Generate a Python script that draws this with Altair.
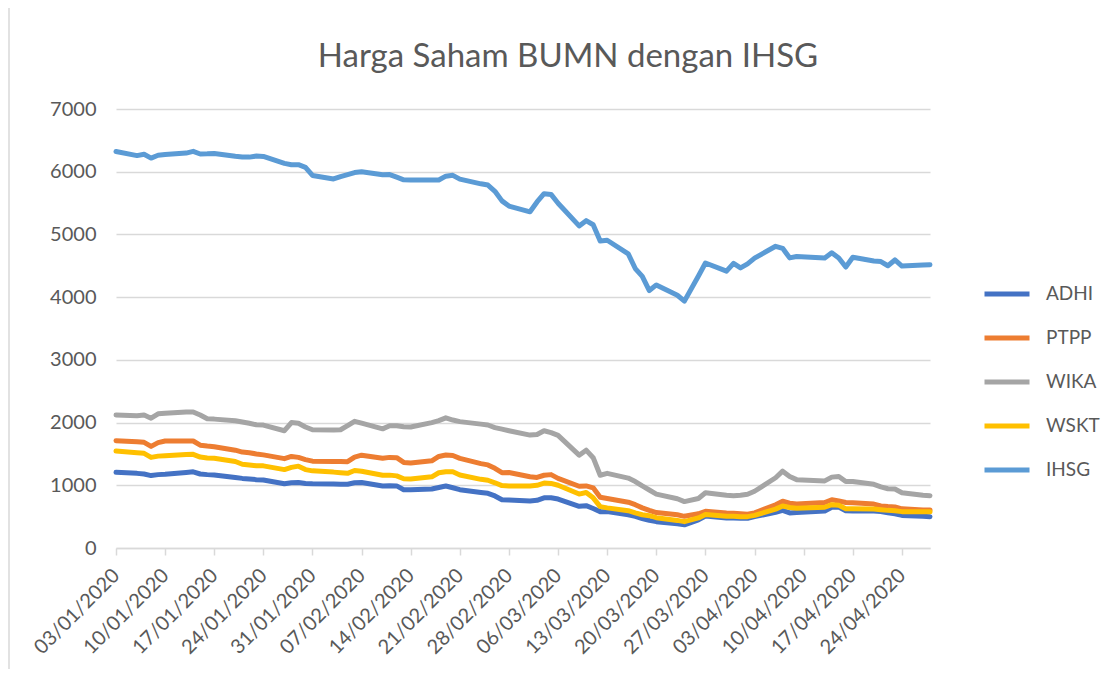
import altair as alt
import pandas as pd

# Trading dates (dd/mm/yyyy)
dates = [
    "03/01/2020", "06/01/2020", "07/01/2020", "08/01/2020", "09/01/2020", "10/01/2020",
    "13/01/2020", "14/01/2020", "15/01/2020", "16/01/2020", "17/01/2020",
    "20/01/2020", "21/01/2020", "22/01/2020", "23/01/2020", "24/01/2020",
    "27/01/2020", "28/01/2020", "29/01/2020", "30/01/2020", "31/01/2020",
    "03/02/2020", "04/02/2020", "05/02/2020", "06/02/2020", "07/02/2020",
    "10/02/2020", "11/02/2020", "12/02/2020", "13/02/2020", "14/02/2020",
    "17/02/2020", "18/02/2020", "19/02/2020", "20/02/2020", "21/02/2020",
    "24/02/2020", "25/02/2020", "26/02/2020", "27/02/2020", "28/02/2020",
    "02/03/2020", "03/03/2020", "04/03/2020", "05/03/2020", "06/03/2020",
    "09/03/2020", "10/03/2020", "11/03/2020", "12/03/2020", "13/03/2020",
    "16/03/2020", "17/03/2020", "18/03/2020", "19/03/2020", "20/03/2020",
    "23/03/2020", "24/03/2020", "26/03/2020", "27/03/2020",
    "30/03/2020", "31/03/2020", "01/04/2020", "02/04/2020", "03/04/2020",
    "06/04/2020", "07/04/2020", "08/04/2020", "09/04/2020",
    "13/04/2020", "14/04/2020", "15/04/2020", "16/04/2020", "17/04/2020",
    "20/04/2020", "21/04/2020", "22/04/2020", "23/04/2020", "24/04/2020",
    "27/04/2020", "28/04/2020",
]

ihsg = [
    6323, 6257, 6279, 6217, 6262, 6274,
    6297, 6325, 6283, 6286, 6292,
    6245, 6233, 6233, 6249, 6244,
    6133, 6111, 6113, 6070, 5940,
    5884, 5922, 5954, 5987, 5999,
    5952, 5954, 5913, 5871, 5866,
    5867, 5868, 5929, 5942, 5882,
    5807, 5787, 5688, 5535, 5452,
    5361, 5518, 5650, 5638, 5498,
    5136, 5220, 5154, 4895, 4907,
    4690, 4456, 4330, 4105, 4195,
    4030, 3937, 4338, 4545,
    4414, 4538, 4466, 4531, 4623,
    4811, 4778, 4626, 4649,
    4623, 4707, 4625, 4480, 4635,
    4575, 4567, 4501, 4593, 4496,
    4513, 4517,
]

wika = [
    2121, 2110, 2120, 2070, 2140, 2150,
    2170, 2170, 2120, 2060, 2055,
    2030, 2010, 1990, 1965, 1960,
    1870, 2000, 1990, 1930, 1885,
    1882, 1885, 1950, 2020, 1990,
    1900, 1950, 1950, 1935, 1929,
    2000, 2030, 2075, 2040, 2015,
    1975, 1961, 1920, 1895, 1870,
    1800, 1810, 1870, 1840, 1795,
    1480, 1560, 1440, 1160, 1190,
    1115, 1060, 990, 925, 860,
    785, 740, 790, 880,
    840, 835, 840, 856, 905,
    1120, 1225, 1140, 1090,
    1070, 1130, 1140, 1060, 1060,
    1015, 975, 945, 940, 880,
    840, 834,
]

ptpp = [
    1712, 1695, 1685, 1620, 1680, 1706,
    1706, 1706, 1640, 1625, 1615,
    1560, 1530, 1520, 1500, 1485,
    1425, 1460, 1445, 1410, 1385,
    1380, 1380, 1376, 1450, 1480,
    1430, 1445, 1440, 1365, 1355,
    1390, 1460, 1483, 1475, 1430,
    1345, 1325, 1270, 1200, 1205,
    1135, 1125, 1160, 1170, 1110,
    985, 990, 960, 810, 790,
    730, 690, 640, 600, 565,
    530, 505, 545, 585,
    560, 555, 545, 537, 560,
    690, 745, 715, 700,
    725, 770, 750, 725, 720,
    700, 670, 660, 655, 625,
    606, 606,
]

wskt = [
    1547, 1520, 1510, 1445, 1465, 1472,
    1490, 1494, 1450, 1435, 1430,
    1380, 1335, 1325, 1310, 1310,
    1250, 1285, 1305, 1250, 1230,
    1210, 1200, 1191, 1235, 1225,
    1160, 1162, 1150, 1105, 1100,
    1135, 1200, 1217, 1215, 1165,
    1095, 1080, 1040, 995, 989,
    989, 1000, 1035, 1030, 1000,
    860, 885, 800, 660, 640,
    595, 560, 530, 515, 483,
    440, 420, 480, 535,
    505, 505, 500, 500, 520,
    620, 670, 645, 635,
    650, 690, 680, 625, 625,
    622, 610, 600, 595, 580,
    579, 579,
]

adhi = [
    1207, 1190, 1180, 1155, 1170, 1175,
    1205, 1215, 1180, 1170, 1165,
    1125, 1110, 1100, 1090, 1085,
    1025, 1040, 1045, 1030, 1025,
    1020, 1018, 1016, 1040, 1045,
    990, 994, 990, 930, 928,
    940, 965, 989, 960, 930,
    885, 872, 830, 770, 765,
    750, 760, 800, 800, 780,
    665, 675, 630, 580, 580,
    530, 505, 470, 440, 420,
    385, 370, 450, 510,
    480, 478, 475, 473, 500,
    570, 600, 560, 565,
    590, 650, 655, 595, 590,
    590, 580, 560, 545, 520,
    505, 500,
]

series_names = ["ADHI", "PTPP", "WIKA", "WSKT", "IHSG"]
series_values = [adhi, ptpp, wika, wskt, ihsg]
series_colors = ["#4472C4", "#ED7D31", "#A5A5A5", "#FFC000", "#5B9BD5"]

tick_dates = [
    "03/01/2020", "10/01/2020", "17/01/2020", "24/01/2020", "31/01/2020",
    "07/02/2020", "14/02/2020", "21/02/2020", "28/02/2020", "06/03/2020",
    "13/03/2020", "20/03/2020", "27/03/2020", "03/04/2020", "10/04/2020",
    "17/04/2020", "24/04/2020",
]
y_ticks = [0, 1000, 2000, 3000, 4000, 5000, 6000, 7000]

title_text = "Harga Saham BUMN dengan IHSG"


def to_dt(s):
    d, m, y = s.split("/")
    return alt.DateTime(year=int(y), month=int(m), date=int(d), utc=True)


def to_iso(s):
    d, m, y = s.split("/")
    return f"{y}-{m}-{d}"


rows = []
for name, vals in zip(series_names, series_values):
    for dt, v in zip(dates, vals):
        rows.append({"date": to_iso(dt), "series": name, "value": v})
df = pd.DataFrame(rows)
df["order"] = df["series"].map({n: i for i, n in enumerate(series_names)})

FONT = "Lato"
GREY_TXT = "#595959"
GRID = "#D9D9D9"

W, H = 814, 439
PAD_L, PAD_T, PAD_R, PAD_B = 108, 101, 177, 121

lines = alt.Chart(df).mark_line(strokeWidth=5, strokeJoin="round", strokeCap="round").encode(
    x=alt.X(
        "date:T",
        scale=alt.Scale(type="utc", domain=[to_dt(dates[0]), to_dt(dates[-1])], nice=False),
        axis=alt.Axis(
            values=[to_dt(t) for t in tick_dates],
            labelExpr="utcFormat(datum.value, '%d/%m/%Y')",
            labelAngle=-45,
            labelAlign="right",
            labelBaseline="middle",
            labelFontSize=20,
            labelFont=FONT,
            labelColor=GREY_TXT,
            labelPadding=17,
            labelOverlap=False,
            labelFlush=False,
            domainColor=GRID,
            domainWidth=1.5,
            tickColor=GRID,
            tickWidth=1.5,
            tickSize=7,
            grid=False,
            title=None,
        ),
    ),
    y=alt.Y(
        "value:Q",
        scale=alt.Scale(domain=[0, 7000], nice=False),
        axis=alt.Axis(
            values=y_ticks,
            format="d",
            labelFontSize=20,
            labelFont=FONT,
            labelColor=GREY_TXT,
            labelPadding=20,
            domain=False,
            ticks=False,
            gridColor=GRID,
            gridWidth=1.5,
            title=None,
        ),
    ),
    color=alt.Color(
        "series:N",
        scale=alt.Scale(domain=series_names, range=series_colors),
        legend=alt.Legend(
            title=None,
            orient="none",
            legendX=866,
            legendY=160,
            symbolType="stroke",
            symbolSize=2025,
            symbolStrokeWidth=5,
            labelFontSize=19,
            labelFont=FONT,
            labelColor=GREY_TXT,
            labelOffset=14,
            rowPadding=9,
        ),
    ),
    order=alt.Order("order:Q"),
)

frame_df = pd.DataFrame({"a": [0]})
left_border = alt.Chart(frame_df).mark_rule(color=GRID, strokeWidth=1.5).encode(
    x=alt.value(-PAD_L + 1),
    y=alt.value(-PAD_T),
    y2=alt.value(H + PAD_B),
)

title_df = pd.DataFrame({"t": [title_text]})
title = alt.Chart(title_df).mark_text(
    font=FONT, fontSize=33, fontWeight="normal", color=GREY_TXT, align="center", baseline="middle"
).encode(
    text="t:N",
    x=alt.value(568 - 8 - PAD_L),
    y=alt.value(57 - 8 - PAD_T),
)

chart = alt.layer(left_border, lines, title).properties(
    width=W,
    height=H,
    padding={"left": PAD_L, "top": PAD_T, "right": PAD_R, "bottom": PAD_B},
    autosize=alt.AutoSizeParams(type="none"),
).configure_view(stroke=None)

chart.save("out.html", embed_options={"renderer": "svg", "actions": False})
